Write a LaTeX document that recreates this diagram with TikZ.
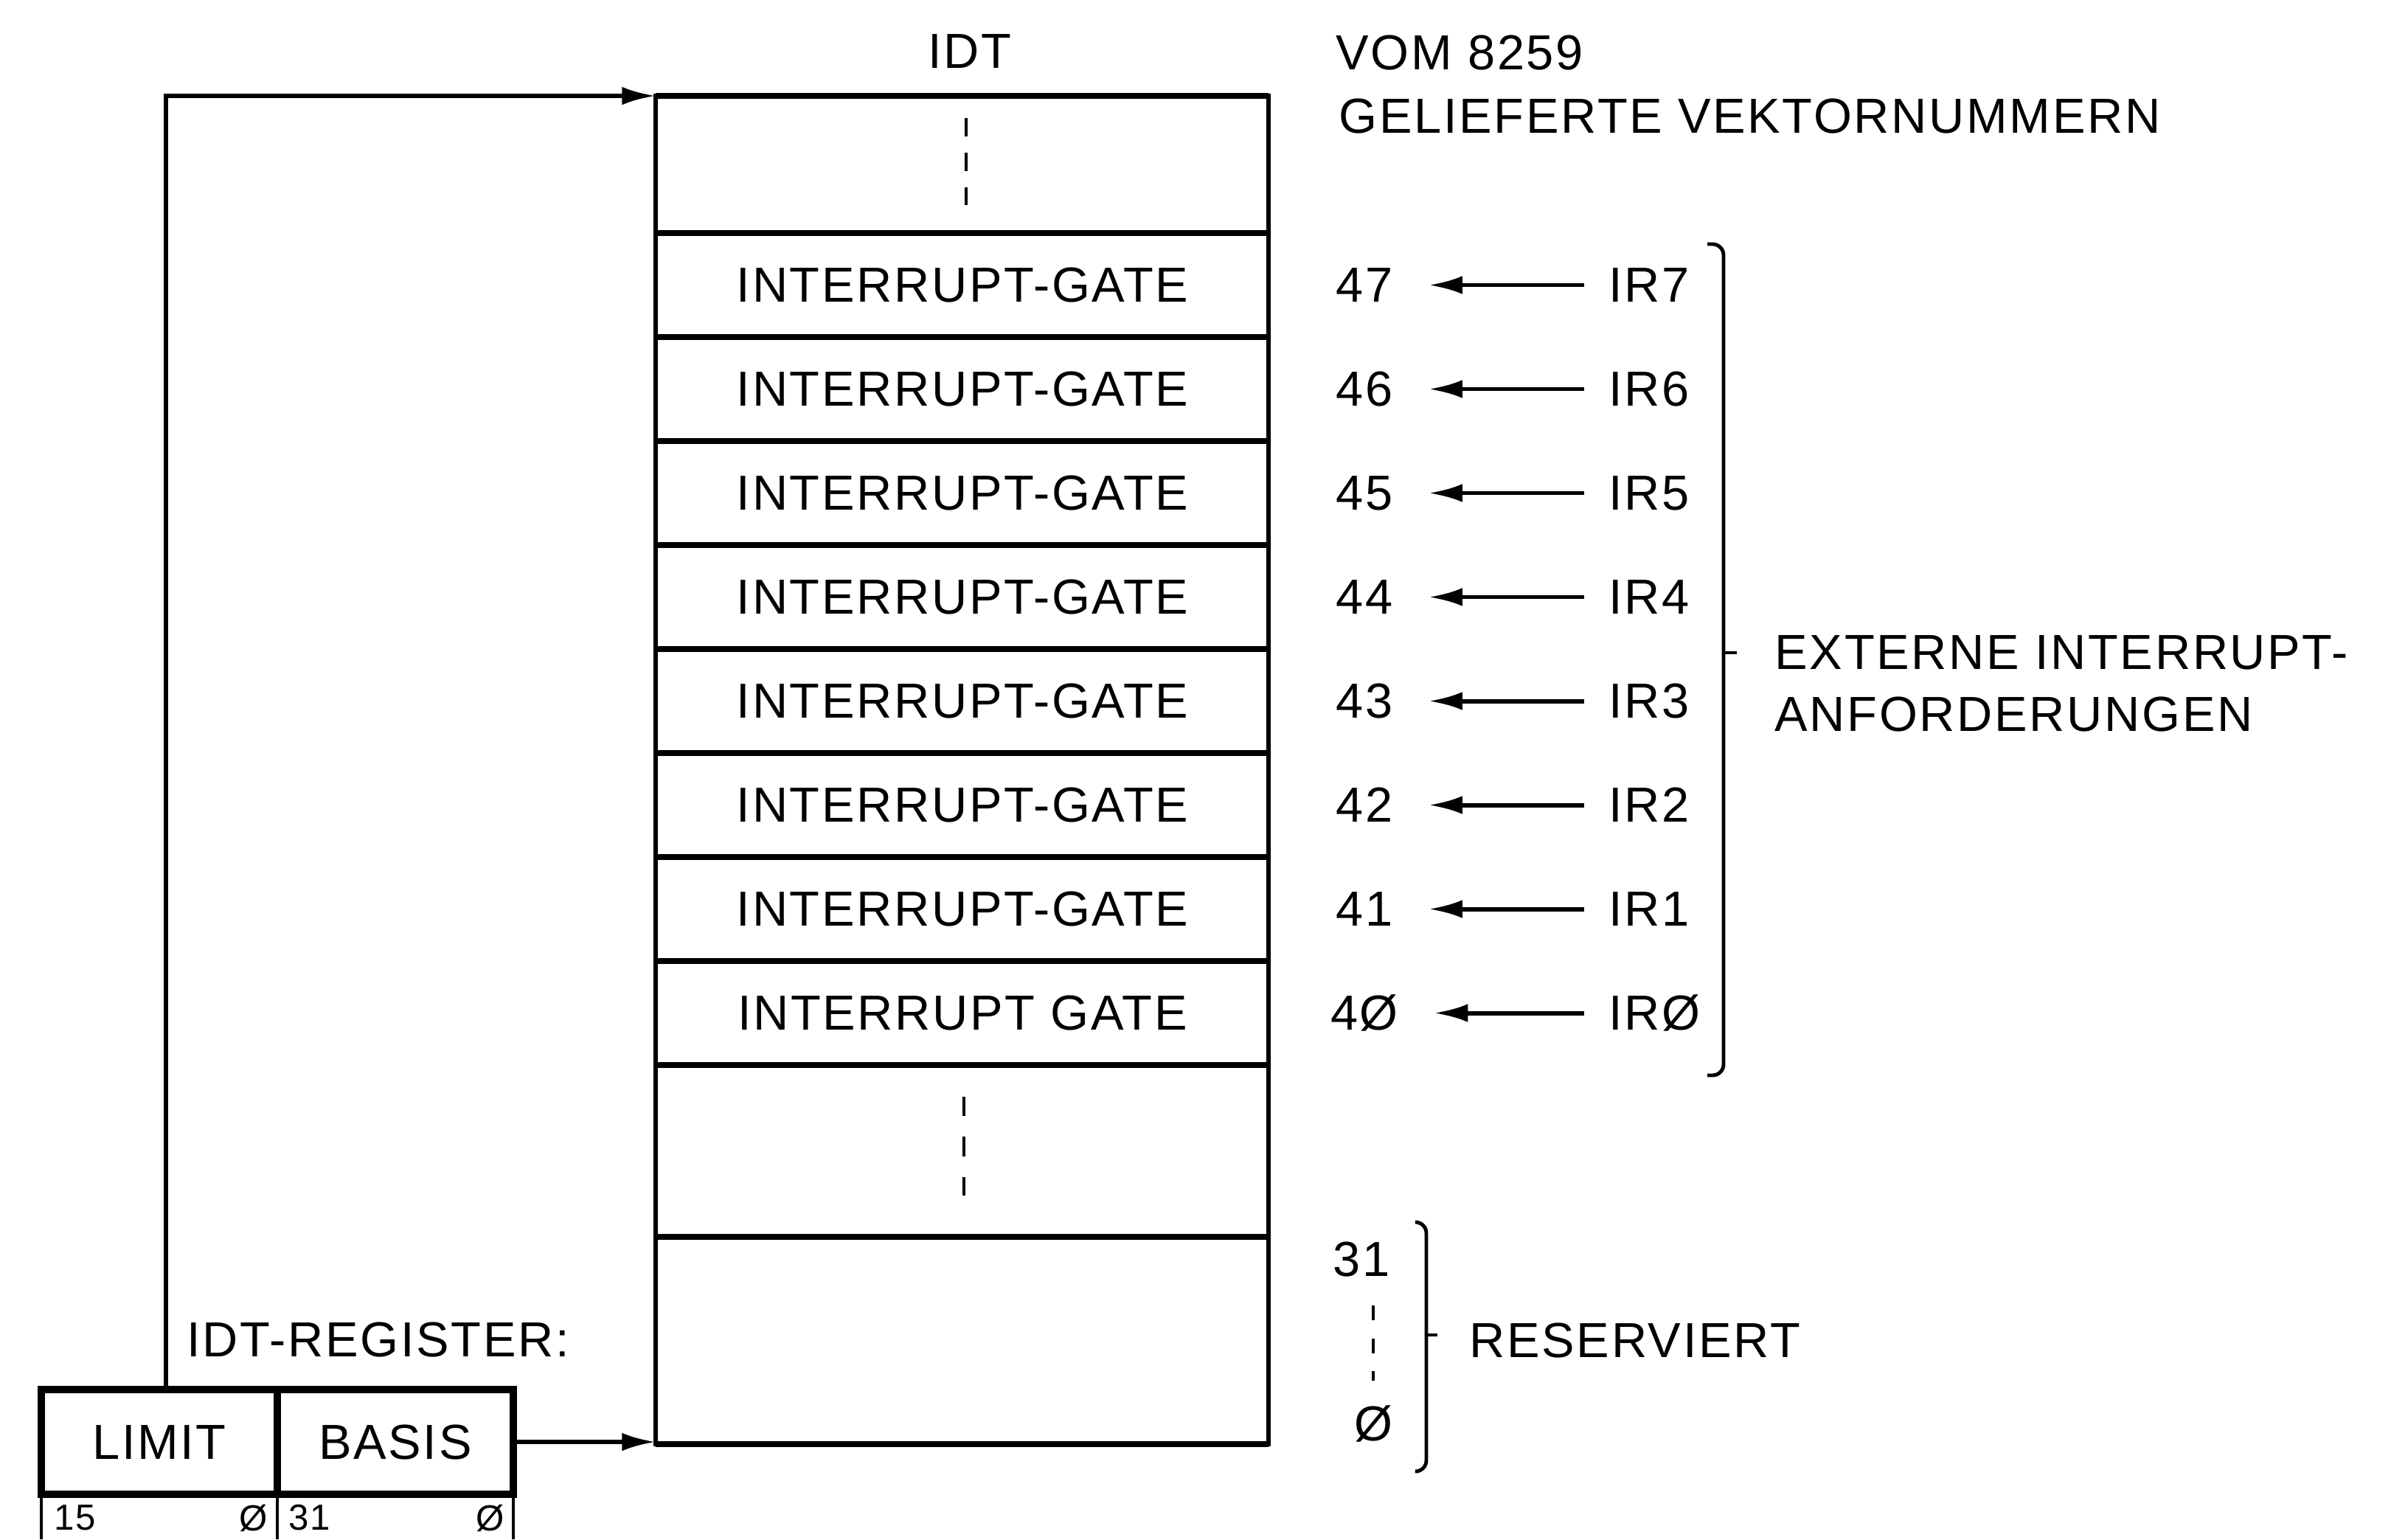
\documentclass[tikz,border=0pt]{standalone}
\usepackage{fontspec}
\setmainfont{Liberation Sans}[LetterSpace=4]
\usetikzlibrary{arrows.meta,positioning}

\tikzset{
  lbl/.style={inner sep=0pt, font=\fontsize{19}{23}\selectfont},
  bitlbl/.style={inner sep=0pt, font=\fontsize{14}{17}\selectfont},
  regbox/.style={draw, line width=2.6pt, inner sep=0pt, outer sep=0pt,
    minimum width=3.2cm, minimum height=1.42cm, font=\fontsize{19}{23}\selectfont},
  conn/.style={line width=1.7pt, -{Latex[length=13pt,width=7pt]}},
  irarrow/.style={conn, shorten >=4.8mm, shorten <=3.3mm},
  rowline/.style={line width=2.4pt},
  tickline/.style={line width=1.3pt},
  skipline/.style={line width=1.4pt, dash pattern=on 7pt off 6.4pt},
  brak/.style={line width=1.4pt, rounded corners=1.5mm},
}

\begin{document}
\begin{tikzpicture}[x=1cm, y=-1cm]
\useasboundingbox (0,0) rectangle (32.42,20.87);

% IDT table
\node[draw, line width=1.5pt, inner sep=0pt, outer sep=0pt,
  minimum width=8.31cm, minimum height=18.28cm] (idt) at (13.045,10.44) {};
\node[lbl] (idttitle) at (13.15,0.70) {IDT};

% Row lines
\draw[rowline] (idt.north west) -- (idt.north east);
\draw[rowline] (idt.west |- 0,3.16) -- (idt.east |- 0,3.16);
\draw[rowline] (idt.west |- 0,4.57) -- (idt.east |- 0,4.57);
\draw[rowline] (idt.west |- 0,5.98) -- (idt.east |- 0,5.98);
\draw[rowline] (idt.west |- 0,7.39) -- (idt.east |- 0,7.39);
\draw[rowline] (idt.west |- 0,8.80) -- (idt.east |- 0,8.80);
\draw[rowline] (idt.west |- 0,10.21) -- (idt.east |- 0,10.21);
\draw[rowline] (idt.west |- 0,11.62) -- (idt.east |- 0,11.62);
\draw[rowline] (idt.west |- 0,13.03) -- (idt.east |- 0,13.03);
\draw[rowline] (idt.west |- 0,14.44) -- (idt.east |- 0,14.44);
\draw[rowline] (idt.west |- 0,16.77) -- (idt.east |- 0,16.77);
\draw[rowline] (idt.south west) -- (idt.south east);

% Gates
\node[lbl] (g7) at (13.05,3.865) {INTERRUPT-GATE};
\node[lbl] (g6) at (13.05,5.275) {INTERRUPT-GATE};
\node[lbl] (g5) at (13.05,6.685) {INTERRUPT-GATE};
\node[lbl] (g4) at (13.05,8.095) {INTERRUPT-GATE};
\node[lbl] (g3) at (13.05,9.505) {INTERRUPT-GATE};
\node[lbl] (g2) at (13.05,10.915) {INTERRUPT-GATE};
\node[lbl] (g1) at (13.05,12.325) {INTERRUPT-GATE};
\node[lbl] (g0) at (13.05,13.735) {INTERRUPT GATE};

% Skipped entries
\draw[skipline] (13.10,1.60) -- (13.10,2.78);
\draw[skipline, dash pattern=on 7.5pt off 8pt] (13.07,14.87) -- (13.07,16.21);

% Vector numbers from the 8259
\node[lbl, anchor=west] (vom) at (18.11,0.72) {VOM 8259};
\node[lbl, anchor=west] (gel) at (18.15,1.58) {GELIEFERTE VEKTORNUMMERN};

\node[lbl] (n47) at (18.50,3.865) {47};
\node[lbl] (n46) at (18.50,5.275) {46};
\node[lbl] (n45) at (18.50,6.685) {45};
\node[lbl] (n44) at (18.50,8.095) {44};
\node[lbl] (n43) at (18.50,9.505) {43};
\node[lbl] (n42) at (18.50,10.915) {42};
\node[lbl] (n41) at (18.50,12.325) {41};
\node[lbl] (n40) at (18.50,13.735) {4Ø};

\node[lbl, anchor=west] (ir7) at (21.81,3.865) {IR7};
\node[lbl, anchor=west] (ir6) at (21.81,5.275) {IR6};
\node[lbl, anchor=west] (ir5) at (21.81,6.685) {IR5};
\node[lbl, anchor=west] (ir4) at (21.81,8.095) {IR4};
\node[lbl, anchor=west] (ir3) at (21.81,9.505) {IR3};
\node[lbl, anchor=west] (ir2) at (21.81,10.915) {IR2};
\node[lbl, anchor=west] (ir1) at (21.81,12.325) {IR1};
\node[lbl, anchor=west] (ir0) at (21.81,13.735) {IRØ};

% Draw arrows
\draw[irarrow] (ir7) -- (n47);
\draw[irarrow] (ir6) -- (n46);
\draw[irarrow] (ir5) -- (n45);
\draw[irarrow] (ir4) -- (n44);
\draw[irarrow] (ir3) -- (n43);
\draw[irarrow] (ir2) -- (n42);
\draw[irarrow] (ir1) -- (n41);
\draw[irarrow] (ir0) -- (n40);

% External requests
\draw[brak] (23.15,3.31) -| (23.37,8.85) |- (23.15,14.58);
\draw[tickline] (23.37,8.85) -- (23.55,8.85);
\node[lbl, anchor=west] (ext) at (24.06,8.85) {EXTERNE INTERRUPT-};
\node[lbl, anchor=west] (anf) at (24.06,9.68) {ANFORDERUNGEN};

% Reserved vectors
\node[lbl] (n31) at (18.46,17.07) {31};
\node[lbl] (n0) at (18.62,19.30) {Ø};
\draw[skipline, dash pattern=on 5.7pt off 7pt] (18.62,17.70) -- (18.62,18.72);
\draw[brak] (19.19,16.57) -| (19.34,18.10) |- (19.19,19.95);
\draw[tickline] (19.34,18.10) -- (19.49,18.10);
\node[lbl, anchor=west] (res) at (19.92,18.17) {RESERVIERT};

% IDT register
\node[lbl, anchor=west] (regtitle) at (2.53,18.16) {IDT-REGISTER:};
\node[regbox] (limit) at (2.16,19.55) {LIMIT};
\node[regbox, right=0pt of limit] (basis) {BASIS};
\draw[tickline] (limit.south west) -- ++(0,0.61);
\draw[tickline] (limit.south east) -- ++(0,0.61);
\draw[tickline] (basis.south east) -- ++(0,0.61);
\node[bitlbl] (b15) at (1.02,20.58) {15};
\node[bitlbl] (b0a) at (3.44,20.58) {Ø};
\node[bitlbl] (b31) at (4.20,20.58) {31};
\node[bitlbl] (b0b) at (6.65,20.58) {Ø};

% Register to table
\coordinate (lp) at (2.25,18.84);
\draw[conn] (lp) |- (idt.north west);
\draw[conn] (basis.east) -- (basis.east -| idt.west);
\end{tikzpicture}
\end{document}
